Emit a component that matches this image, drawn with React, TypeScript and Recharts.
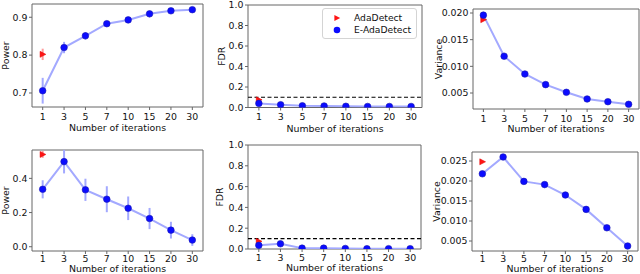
import React from 'react';
import { LineChart, Line, XAxis, YAxis, ErrorBar, ReferenceLine, ReferenceArea, Legend, Label } from 'recharts';

const ITERATIONS = ['1', '3', '5', '7', '10', '15', '20', '30'];
const X_TICKS = [0, 1, 2, 3, 4, 5, 6, 7];

// top row
const POWER_A = [0.706, 0.82, 0.851, 0.883, 0.893, 0.909, 0.917, 0.92];
const POWER_A_ERR = [0.034, 0.015, 0.01, 0.006, 0.005, 0.004, 0.004, 0.003];
const ADA_POWER_A = 0.802;
const ADA_POWER_A_ERR = 0.015;
const FDR_A = [0.04, 0.027, 0.017, 0.015, 0.012, 0.01, 0.01, 0.01];
const FDR_A_ERR = [0.01, 0.006, 0.004, 0.004, 0.003, 0.003, 0.003, 0.003];
const ADA_FDR_A = 0.075;
const ADA_FDR_A_ERR = 0.01;
const VAR_A = [0.0196, 0.0119, 0.00856, 0.00657, 0.00513, 0.00388, 0.00337, 0.00288];
const VAR_A_ERR = [0, 0, 0, 0, 0, 0, 0, 0];
const ADA_VAR_A = 0.01875;

// bottom row
const POWER_B = [0.336, 0.498, 0.333, 0.278, 0.225, 0.165, 0.097, 0.039];
const POWER_B_ERR = [0.053, 0.069, 0.065, 0.076, 0.069, 0.062, 0.049, 0.034];
const ADA_POWER_B = 0.54;
const ADA_POWER_B_ERR = 0.02;
const FDR_B = [0.035, 0.05, 0.008, 0.008, 0.005, 0.003, 0.003, 0.003];
const FDR_B_ERR = [0.01, 0.012, 0.004, 0.004, 0.003, 0.002, 0.002, 0.002];
const ADA_FDR_B = 0.074;
const ADA_FDR_B_ERR = 0.008;
const VAR_B = [0.0218, 0.026, 0.0199, 0.0191, 0.0165, 0.0129, 0.0083, 0.00375];
const VAR_B_ERR = [0, 0, 0, 0, 0, 0, 0, 0];
const ADA_VAR_B = 0.0248;

const POWER_A_TICKS = [0.7, 0.8, 0.9];
const POWER_B_TICKS = [0, 0.2, 0.4];
const FDR_TICKS = [0, 0.2, 0.4, 0.6, 0.8, 1.0];
const VAR_A_TICKS = [0.005, 0.01, 0.015, 0.02];
const VAR_B_TICKS = [0.005, 0.01, 0.015, 0.02, 0.025];

const FDR_TARGET = 0.1;

const FS = 9.4;
const TEXT = '#111';
const FRAME = '#666';
const BLUE = '#0b0bff';
const BLUE_LIGHT = '#a3a9ff';
const RED = '#ff1414';
const RED_LIGHT = '#ff9c9c';

const YW = 40;
const MT = 6;
const MR = 6;
const XH = 32;

type Row = { idx: number; e: number; eErr: number; a: number | null; aErr: number | null };

function makeRows(e: number[], eErr: number[], a: number, aErr: number): Row[] {
  return ITERATIONS.map((_, i) => ({
    idx: i,
    e: e[i],
    eErr: eErr[i],
    a: i === 0 ? a : null,
    aErr: i === 0 ? aErr : null,
  }));
}

const BlueDot = (props: any) => {
  const { cx, cy, index } = props;
  if (cx == null || cy == null) return <g key={index} />;
  return <circle key={index} cx={cx} cy={cy} r={3.3} fill={BLUE} stroke="#1a1ab0" strokeWidth={0.6} />;
};

const RedTri = (props: any) => {
  const { cx, cy, index, payload } = props;
  if (cx == null || cy == null || payload?.a == null) return <g key={index} />;
  const pts = `${cx - 2.6},${cy - 3} ${cx - 2.6},${cy + 3} ${cx + 3.2},${cy}`;
  return <polygon key={index} points={pts} fill={RED} stroke="#e00000" strokeWidth={0.5} />;
};

const LegendBox = () => (
  <div
    style={{
      width: 95,
      height: 31,
      border: '1px solid #d4d4d4',
      borderRadius: 3,
      background: 'rgba(255,255,255,0.85)',
      padding: '3px 0 0 7px',
      boxSizing: 'border-box',
      fontSize: 9.2,
      color: TEXT,
      lineHeight: '12px',
      whiteSpace: 'nowrap',
    }}
  >
    {[
      { name: 'AdaDetect', kind: 'tri' },
      { name: 'E-AdaDetect', kind: 'dot' },
    ].map((it) => (
      <div key={it.name} style={{ display: 'flex', alignItems: 'center', height: 12 }}>
        <svg width={14} height={12} style={{ marginRight: 10, flex: 'none' }}>
          {it.kind === 'tri' ? (
            <polygon points="4.4,3 4.4,9 10.2,6" fill={RED} />
          ) : (
            <circle cx={7} cy={6} r={3.3} fill={BLUE} />
          )}
        </svg>
        <span>{it.name}</span>
      </div>
    ))}
  </div>
);

type PanelProps = {
  box: [number, number, number, number];
  rows: Row[];
  yDomain: [number, number];
  yTicks: number[];
  digits: number;
  yLabel: string;
  labelX: number;
  xLabelOffset: number;
  tickGap: number;
  threshold?: number;
  legend?: boolean;
};

function Panel({ box, rows, yDomain, yTicks, digits, yLabel, labelX, xLabelOffset, tickGap, threshold, legend }: PanelProps) {
  const [l, r, t, b] = box;
  const left = l - YW;
  const top = t - MT;
  const width = YW + (r - l) + MR;
  const height = MT + (b - t) + XH;
  return (
    <div style={{ position: 'absolute', left, top }}>
      <LineChart width={width} height={height} data={rows} margin={{ top: MT, right: MR, bottom: 0, left: 0 }}>
        <XAxis
          type="number"
          dataKey="idx"
          domain={[-0.5, 7.5]}
          ticks={X_TICKS}
          interval={0}
          allowDataOverflow
          tickFormatter={(v: number) => ITERATIONS[v]}
          height={XH}
          axisLine={false}
          tickLine={{ stroke: FRAME }}
          tickSize={3}
          tickMargin={tickGap}
          tick={{ fill: TEXT, fontSize: FS }}
        >
          <Label value="Number of iterations" position="insideBottom" offset={xLabelOffset} style={{ fill: TEXT, fontSize: FS }} />
        </XAxis>
        <YAxis
          type="number"
          domain={yDomain}
          ticks={yTicks}
          interval={0}
          allowDataOverflow
          tickFormatter={(v: number) => v.toFixed(digits)}
          width={YW}
          axisLine={false}
          tickLine={{ stroke: FRAME }}
          tickSize={3}
          tickMargin={1.5}
          tick={{ fill: TEXT, fontSize: FS }}
        >
          <Label
            value={yLabel}
            angle={-90}
            position="insideLeft"
            offset={labelX - left}
            style={{ fill: TEXT, fontSize: FS, textAnchor: 'middle' }}
          />
        </YAxis>
        {threshold != null && (
          <ReferenceLine y={threshold} stroke="#000" strokeWidth={1.2} strokeDasharray="4 2.5" />
        )}
        <Line dataKey="a" stroke="none" dot={RedTri} activeDot={false} isAnimationActive={false}>
          <ErrorBar dataKey="aErr" width={0} stroke={RED_LIGHT} strokeWidth={2} />
        </Line>
        <Line
          dataKey="e"
          stroke={BLUE_LIGHT}
          strokeWidth={2}
          dot={BlueDot}
          activeDot={false}
          isAnimationActive={false}
        >
          <ErrorBar dataKey="eErr" width={0} stroke={BLUE_LIGHT} strokeWidth={2} />
        </Line>
        <ReferenceArea
          x1={-0.5}
          x2={7.5}
          y1={yDomain[0]}
          y2={yDomain[1]}
          fill="none"
          stroke={FRAME}
          strokeWidth={1}
          ifOverflow="visible"
        />
        {legend && (
          <Legend
            layout="horizontal"
            verticalAlign="middle"
            align="center"
            wrapperStyle={{ left: 322 - left, top: 8 - top, width: 95 }}
            content={() => <LegendBox />}
          />
        )}
      </LineChart>
    </div>
  );
}

export default function App() {
  return (
    <div
      style={{
        position: 'fixed',
        left: 0,
        top: 0,
        width: 640,
        height: 274,
        overflow: 'hidden',
        background: '#fff',
        fontFamily: '"DejaVu Sans", sans-serif',
      }}
    >
      <Panel
        box={[32, 203, 4, 107]}
        rows={makeRows(POWER_A, POWER_A_ERR, ADA_POWER_A, ADA_POWER_A_ERR)}
        yDomain={[0.663, 0.935]}
        yTicks={POWER_A_TICKS}
        digits={1}
        yLabel="Power"
        labelX={6}
        xLabelOffset={8}
        tickGap={3}
      />
      <Panel
        box={[248, 422, 4.5, 107]}
        rows={makeRows(FDR_A, FDR_A_ERR, ADA_FDR_A, ADA_FDR_A_ERR)}
        yDomain={[0, 1]}
        yTicks={FDR_TICKS}
        digits={1}
        yLabel="FDR"
        labelX={222}
        xLabelOffset={8}
        tickGap={3}
        threshold={FDR_TARGET}
        legend
      />
      <Panel
        box={[473, 639, 9, 109]}
        rows={makeRows(VAR_A, VAR_A_ERR, ADA_VAR_A, 0)}
        yDomain={[0.002, 0.02075]}
        yTicks={VAR_A_TICKS}
        digits={3}
        yLabel="Variance"
        labelX={438.5}
        xLabelOffset={9.5}
        tickGap={3}
      />
      <Panel
        box={[32, 203, 150, 251]}
        rows={makeRows(POWER_B, POWER_B_ERR, ADA_POWER_B, ADA_POWER_B_ERR)}
        yDomain={[-0.025, 0.566]}
        yTicks={POWER_B_TICKS}
        digits={1}
        yLabel="Power"
        labelX={6}
        xLabelOffset={11}
        tickGap={1.5}
      />
      <Panel
        box={[248, 421, 145, 249]}
        rows={makeRows(FDR_B, FDR_B_ERR, ADA_FDR_B, ADA_FDR_B_ERR)}
        yDomain={[0, 1]}
        yTicks={FDR_TICKS}
        digits={1}
        yLabel="FDR"
        labelX={220}
        xLabelOffset={10}
        tickGap={2.5}
        threshold={FDR_TARGET}
      />
      <Panel
        box={[472, 638, 152, 251]}
        rows={makeRows(VAR_B, VAR_B_ERR, ADA_VAR_B, 0)}
        yDomain={[0.0025, 0.02725]}
        yTicks={VAR_B_TICKS}
        digits={3}
        yLabel="Variance"
        labelX={436.5}
        xLabelOffset={11}
        tickGap={1.5}
      />
    </div>
  );
}
